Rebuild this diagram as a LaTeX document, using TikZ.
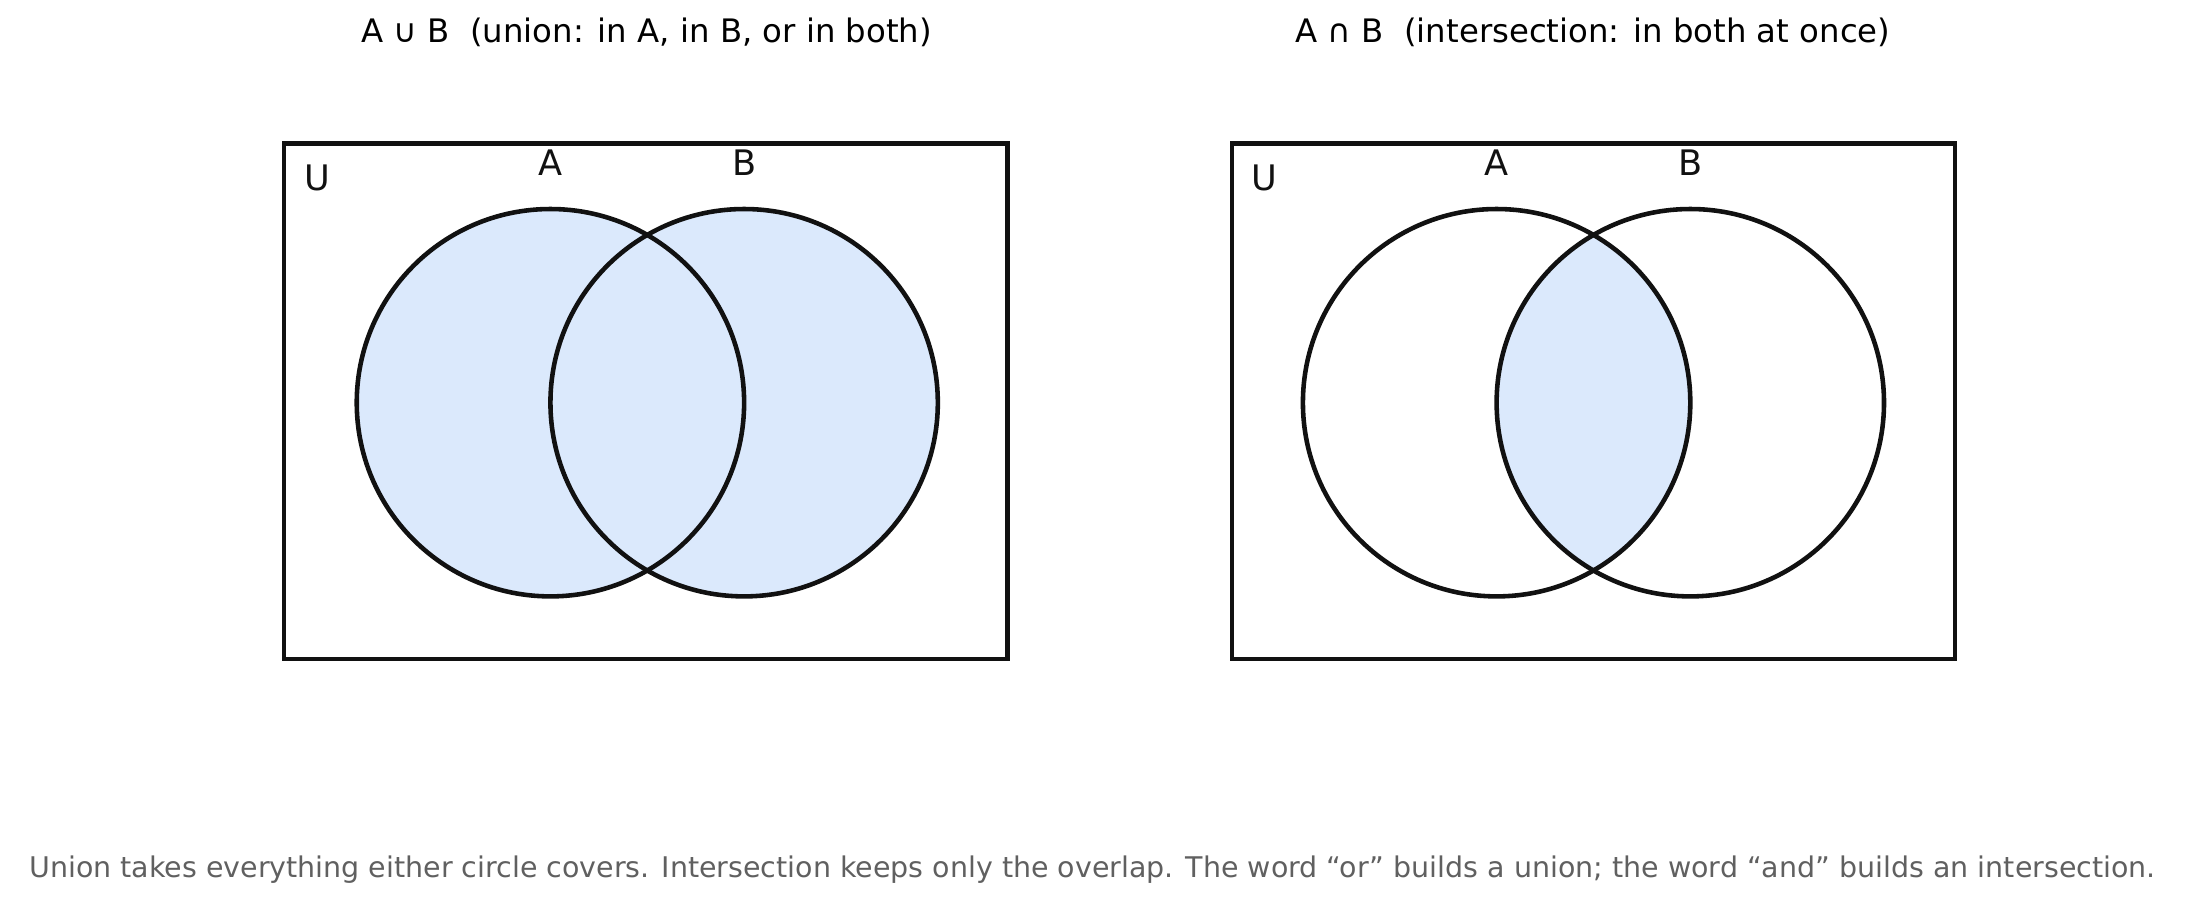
\documentclass[tikz,border=0pt]{standalone}
\usepackage{fontspec}
\setmainfont{DejaVu Sans}
\definecolor{fillb}{HTML}{DBE9FC}
\definecolor{txtg}{HTML}{606060}
\definecolor{ink}{HTML}{111111}
\begin{document}
\begin{tikzpicture}[x=0.013935cm,y=-0.013935cm,
  frame/.style={draw=ink,line width=1.2pt},
  circ/.style={draw=ink,line width=1.3pt},
  title/.style={font=\fontsize{9.2}{11}\selectfont,text=black},
  lab/.style={font=\fontsize{10}{12}\selectfont,text=ink},
  captext/.style={font=\fontsize{8.1}{10}\selectfont,text=txtg}]
\useasboundingbox (0,0) rectangle (1568,650);
% left: union
\node[title] (t1) at (464,23) {A ∪ B\ \ (union: in A, in B, or in both)};
\fill[fillb] (395,289) circle (139) (534,289) circle (139);
\draw[circ] (395,289) circle (139);
\draw[circ] (534,289) circle (139);
\draw[frame] (204,103) rectangle (723,473);
\node[lab] (ua) at (395,117) {A};
\node[lab] (ub) at (534,117) {B};
\node[lab] (uu) at (228,128) {U};
% right: intersection
\node[title] (t2) at (1143,23) {A ∩ B\ \ (intersection: in both at once)};
\begin{scope}
\clip (1074,289) circle (139);
\fill[fillb] (1213,289) circle (139);
\end{scope}
\draw[circ] (1074,289) circle (139);
\draw[circ] (1213,289) circle (139);
\draw[frame] (884,103) rectangle (1403,473);
\node[lab] (ia) at (1074,117) {A};
\node[lab] (ib) at (1213,117) {B};
\node[lab] (iu) at (907,128) {U};
\node[captext] (c) at (784,624) {Union takes everything either circle covers. Intersection keeps only the overlap. The word “or” builds a union; the word “and” builds an intersection.};
\end{tikzpicture}
\end{document}
